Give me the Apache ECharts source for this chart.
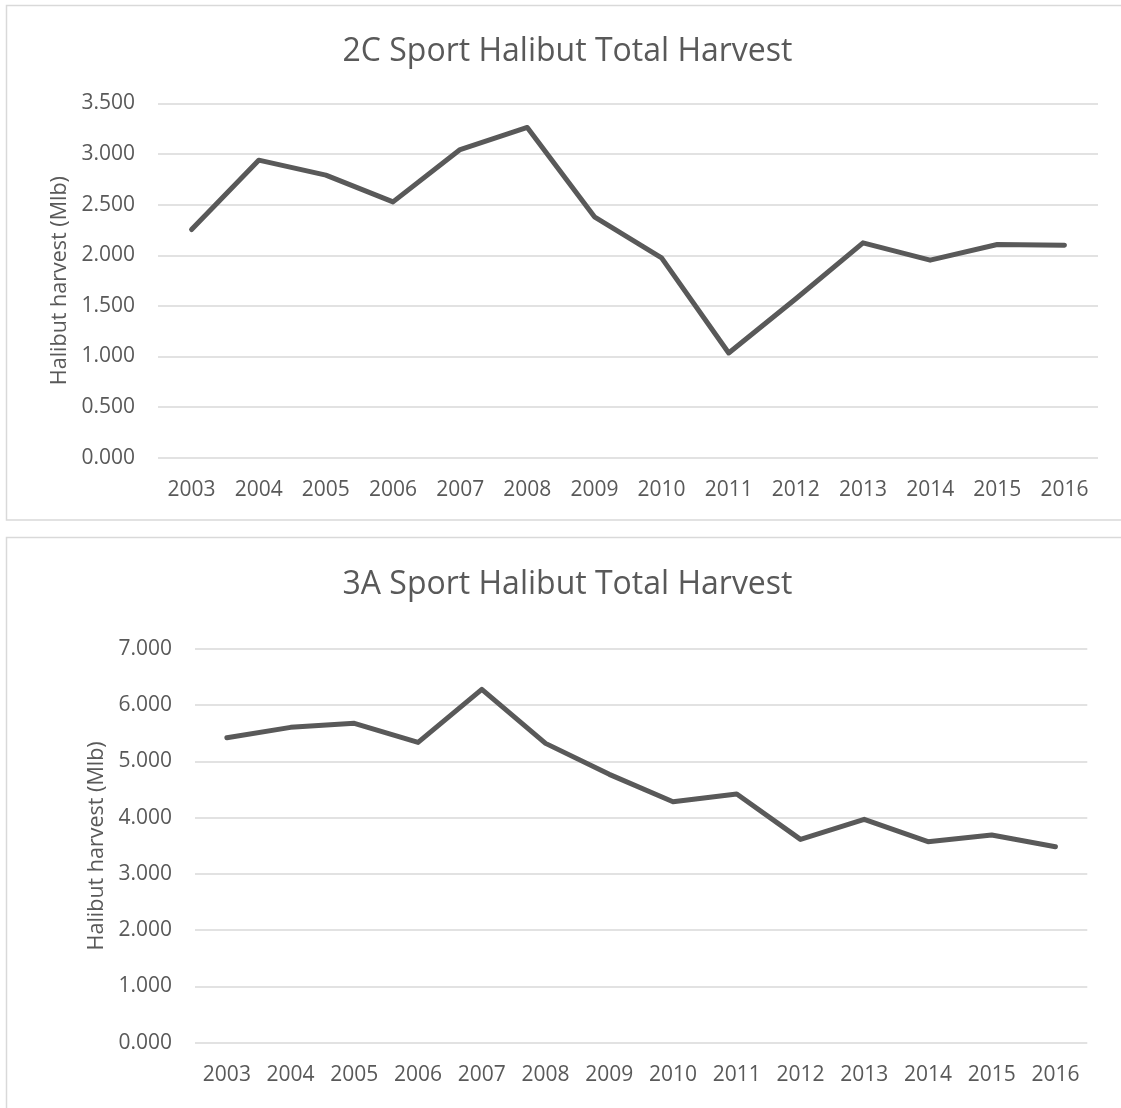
<!DOCTYPE html>
<html>
<head>
<meta charset="utf-8">
<script src="https://cdn.jsdelivr.net/npm/echarts@6/dist/echarts.min.js"></script>
<style>
  html, body { margin: 0; padding: 0; background: #ffffff; }
  #chart { width: 1121px; height: 1108px; }
</style>
</head>
<body>
<div id="chart"></div>
<script>
const years = ['2003','2004','2005','2006','2007','2008','2009','2010','2011','2012','2013','2014','2015','2016'];
const harvest2C = [2.255, 2.940, 2.792, 2.528, 3.045, 3.263, 2.380, 1.975, 1.035, 1.570, 2.123, 1.952, 2.107, 2.100];
const harvest3A = [5.422, 5.607, 5.678, 5.340, 6.282, 5.322, 4.771, 4.285, 4.421, 3.615, 3.971, 3.574, 3.692, 3.485];
const title2C = '2C Sport Halibut Total Harvest';
const title3A = '3A Sport Halibut Total Harvest';
const yName = 'Halibut harvest (Mlb)';

const FONT = '"Open Sans", "Noto Sans", sans-serif';
const TXT = '#595959';
const GRID_LINE = '#d9d9d9';

const chart = echarts.init(document.getElementById('chart'), null, { renderer: 'canvas' });

function xAxisFor(idx) {
  return {
    type: 'category', gridIndex: idx, data: years, boundaryGap: true,
    axisLine: { show: false }, axisTick: { show: false },
    axisLabel: { color: TXT, fontFamily: FONT, fontSize: 21, margin: 22 }
  };
}
function yAxisFor(idx, max, interval) {
  return {
    type: 'value', gridIndex: idx, min: 0, max: max, interval: interval,
    name: yName, nameLocation: 'middle', nameGap: 87,
    nameTextStyle: { color: TXT, fontFamily: FONT, fontSize: 21.5 },
    axisLine: { show: false }, axisTick: { show: false },
    axisLabel: { color: TXT, fontFamily: FONT, fontSize: 21, margin: 23,
      formatter: v => v.toFixed(3) },
    splitLine: { lineStyle: { color: GRID_LINE, width: 1.5 } }
  };
}
const lineStyle = { color: '#595959', width: 5, cap: 'round', join: 'round' };

chart.setOption({
  animation: false,
  backgroundColor: '#ffffff',
  grid: [
    { left: 158, top: 103.5, width: 940, height: 354.2, containLabel: false },
    { left: 195, top: 649, width: 892.3, height: 393.7, containLabel: false }
  ],
  xAxis: [xAxisFor(0), xAxisFor(1)],
  yAxis: [yAxisFor(0, 3.5, 0.5), yAxisFor(1, 7, 1)],
  series: [
    { type: 'line', xAxisIndex: 0, yAxisIndex: 0, data: harvest2C, showSymbol: false, symbol: 'none',
      lineStyle: lineStyle, itemStyle: { color: '#595959' } },
    { type: 'line', xAxisIndex: 1, yAxisIndex: 1, data: harvest3A, showSymbol: false, symbol: 'none',
      lineStyle: lineStyle, itemStyle: { color: '#595959' } }
  ],
  graphic: [
    { type: 'rect', shape: { x: 6.5, y: 5.5, width: 1130, height: 514.5 },
      style: { fill: 'none', stroke: GRID_LINE, lineWidth: 1.5 }, silent: true },
    { type: 'rect', shape: { x: 6.5, y: 537.5, width: 1130, height: 600 },
      style: { fill: 'none', stroke: GRID_LINE, lineWidth: 1.5 }, silent: true },
    { type: 'text', x: 567.5, y: 52, style: { text: title2C, fill: TXT, font: '32px ' + FONT,
      align: 'center', verticalAlign: 'middle' } },
    { type: 'text', x: 567.5, y: 584.5, style: { text: title3A, fill: TXT, font: '32px ' + FONT,
      align: 'center', verticalAlign: 'middle' } }
  ]
});
</script>
</body>
</html>
